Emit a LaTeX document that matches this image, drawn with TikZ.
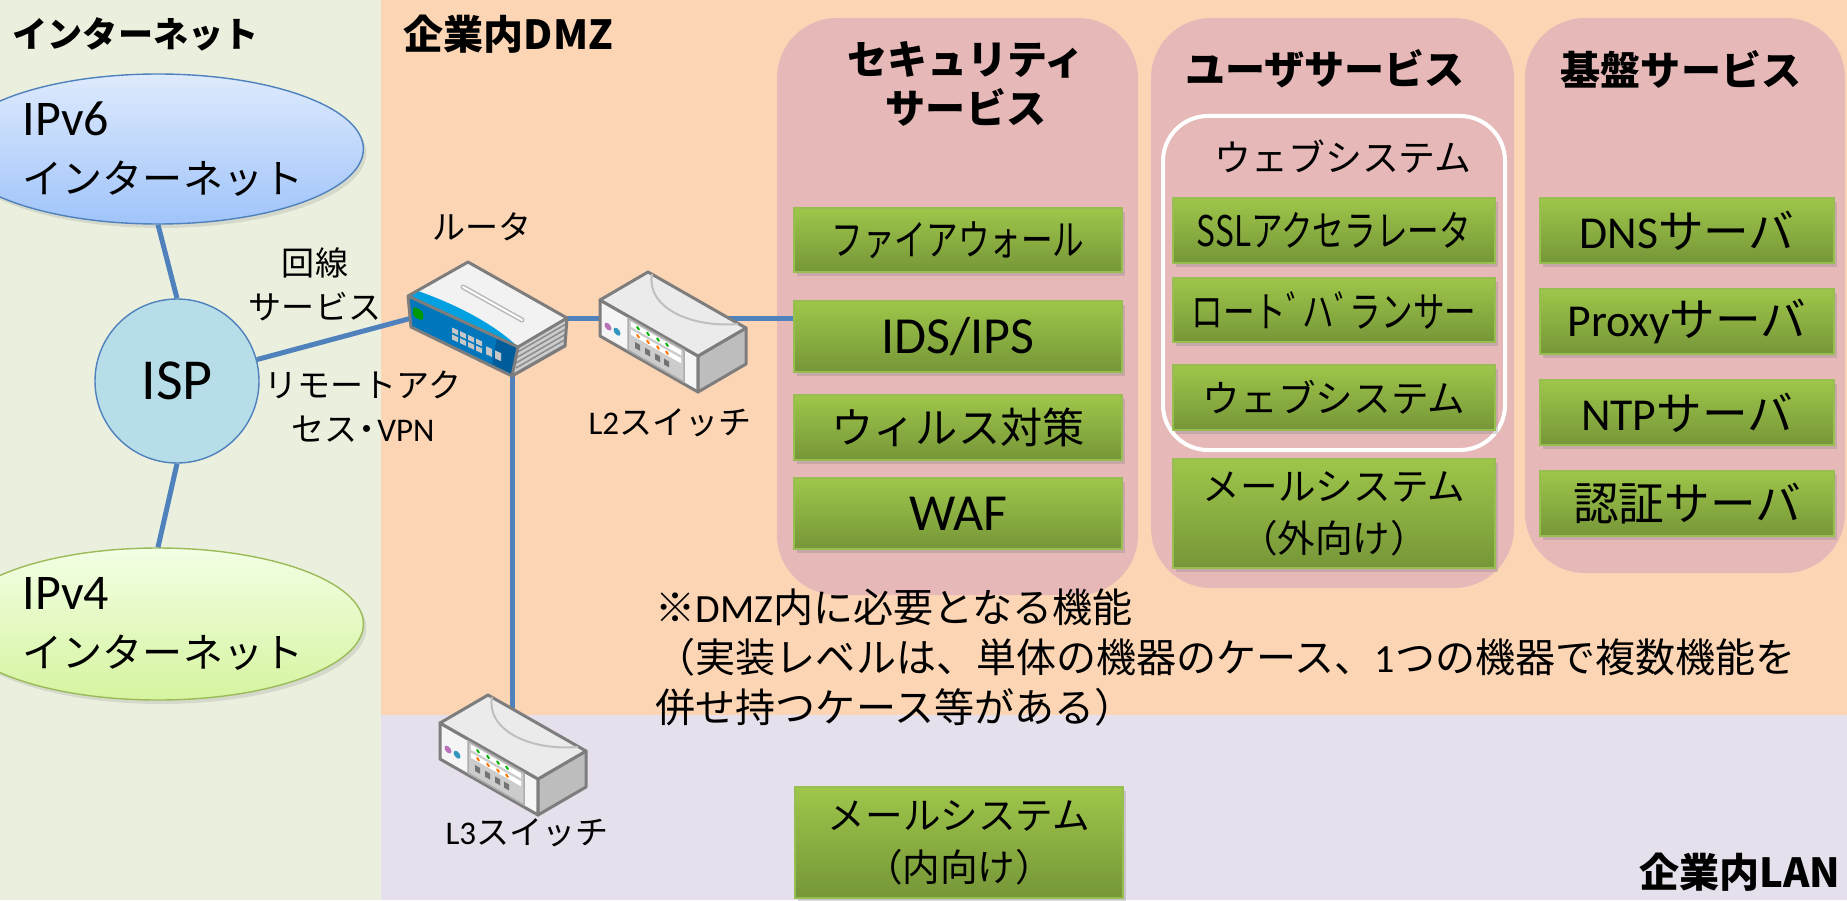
\documentclass[tikz,border=0pt]{standalone}
\usepackage{fontspec}
\setmainfont{Noto Sans CJK JP}
\newfontfamily\engfont{Carlito}
\newfontfamily\narrowfont{Noto Sans CJK JP}[FakeStretch=0.75]
\usetikzlibrary{shapes.geometric,shadows}

\definecolor{netbg}{RGB}{235,240,222}
\definecolor{dmzbg}{RGB}{252,213,181}
\definecolor{lanbg}{RGB}{230,224,236}
\definecolor{svcbg}{RGB}{230,185,184}
\definecolor{linkblue}{RGB}{79,129,189}
\definecolor{boxtop}{RGB}{158,198,74}
\definecolor{boxbot}{RGB}{118,150,56}
\definecolor{boxline}{RGB}{150,190,80}
\definecolor{vsixtop}{RGB}{222,234,253}
\definecolor{vsixbot}{RGB}{160,196,250}
\definecolor{vfourtop}{RGB}{242,255,228}
\definecolor{vfourbot}{RGB}{214,244,160}
\definecolor{vfourline}{RGB}{155,187,89}
\definecolor{ispfill}{RGB}{183,221,232}
\definecolor{devline}{RGB}{125,125,125}
\definecolor{rtblue}{RGB}{0,160,225}
\definecolor{rtface}{RGB}{0,118,188}
\definecolor{rtdark}{RGB}{0,92,155}

\tikzset{
  link/.style={linkblue, line width=0.5mm},
  panel/.style={fill=svcbg, rounded corners=6mm},
  fbox/.style={draw=boxline, top color=boxtop, bottom color=boxbot, line width=0.2mm,
    align=center, inner sep=0pt,
    drop shadow={shadow xshift=0.3mm, shadow yshift=-0.4mm, opacity=0.3}},
  sectitle/.style={font=\fontsize{11.4pt}{13.7pt}\selectfont\bfseries, align=center},
  lbl/.style={font=\fontsize{9.4pt}{12.5pt}\selectfont, align=center, inner sep=0pt},
  devface/.style={draw=devline, line width=0.3mm, line join=round},
  switch/.pic={
    \path[devface, fill=white!96!black] (0,0) -- (98,56) -- (98,92) -- (0,36) -- cycle;
    \path[devface, fill=white!74!black] (98,56) -- (146,28) -- (146,64) -- (98,92) -- cycle;
    \path[devface, fill=white!92!black] (0,0) -- (48,-28) -- (146,28) -- (98,56) -- cycle;
    \draw[white!75!black, line width=0.2mm] (52,-26) .. controls (46,6) and (88,28) .. (138,24);
    % lamps and ports on the front
    \begin{scope}[yslant=-0.571]
      \path[fill=white!80!black, draw=white!68!black, line width=0.15mm] (28,2) rectangle (84,34);
      \fill[white] (31,4) rectangle (81,9);
      \fill[white] (31,12) rectangle (81,17);
      \foreach \u in {38,48,58,67} {
        \fill[green!70!black] (\u,6.5) circle[radius=1.8];
        \fill[orange!90!red] (\u,14.5) circle[radius=1.8];
        \fill[white!45!black] (\u-3,22) rectangle ++(5,6);
      }
      \fill[violet!55] (8,22) circle[radius=3.5];
      \fill[cyan!75!black] (17,22) circle[radius=3.5];
    \end{scope}
  }
}

\begin{document}
\begin{tikzpicture}[x=0.1mm, y=-0.1mm]
  \useasboundingbox (0,0) rectangle (1847,900);

  % areas
  \fill[netbg] (0,0) rectangle (381,900);
  \fill[dmzbg] (381,0) rectangle (1847,715);
  \fill[lanbg] (381,715) rectangle (1847,900);

  \node[anchor=west, inner sep=0pt, font=\fontsize{10pt}{12pt}\selectfont\bfseries] (nettitle) at (12,34) {インターネット};
  \node[anchor=west, inner sep=0pt, font=\fontsize{11.4pt}{13pt}\selectfont\bfseries] (dmztitle) at (403,34) {企業内DMZ};
  \node[anchor=east, inner sep=0pt, font=\fontsize{11.4pt}{13pt}\selectfont\bfseries] (lantitle) at (1841,872) {企業内LAN};

  % service groups
  \fill[panel] (777,18) rectangle (1138,595);
  \fill[panel] (1151,18) rectangle (1514,588);
  \fill[panel] (1525,18) rectangle (1845,573);
  \draw[white, line width=0.4mm, rounded corners=4.5mm] (1163,116) rectangle (1505,450);

  \node[sectitle] (sectitle) at (966,84) {セキュリティ\\サービス};
  \node[sectitle] (usrtitle) at (1325,69) {ユーザサービス};
  \node[sectitle] (basetitle) at (1681,69) {基盤サービス};
  \node[font=\fontsize{10.5pt}{12pt}\selectfont] (webtitle) at (1343,157) {ウェブシステム};

  % security services
  \node[fbox, minimum width=32.8mm, minimum height=6.4mm, font=\narrowfont\fontsize{12pt}{14pt}\selectfont] (fw) at (958,240) {ファイアウォール};
  \node[fbox, minimum width=32.8mm, minimum height=7.1mm, font=\engfont\fontsize{14.8pt}{16pt}\selectfont] (ids) at (958,336.5) {IDS/IPS};
  \node[fbox, minimum width=32.8mm, minimum height=6.5mm, font=\fontsize{12pt}{14pt}\selectfont] (virus) at (958,427.5) {ウィルス対策};
  \node[fbox, minimum width=32.8mm, minimum height=7.1mm, font=\engfont\fontsize{14.8pt}{16pt}\selectfont] (waf) at (958,513.5) {WAF};

  % user services
  \node[fbox, minimum width=32.2mm, minimum height=6.5mm, font=\narrowfont\fontsize{12pt}{14pt}\selectfont] (ssl) at (1334,230.5) {SSLアクセラレータ};
  \node[fbox, minimum width=32.2mm, minimum height=6.4mm, font=\narrowfont\fontsize{12pt}{14pt}\selectfont] (lb) at (1334,310) {ロートﾞハﾞランサー};
  \node[fbox, minimum width=32.2mm, minimum height=6.5mm, font=\fontsize{10.7pt}{14pt}\selectfont] (web) at (1334,397.5) {ウェブシステム};
  \node[fbox, minimum width=32.2mm, minimum height=10.9mm, font=\fontsize{10.7pt}{14.8pt}\selectfont] (extmail) at (1334,513.5) {メールシステム\\（外向け）};

  % base services
  \node[fbox, minimum width=29.4mm, minimum height=6.5mm, font=\fontsize{13pt}{15pt}\selectfont] (dns) at (1687,230.5) {{\engfont DNS}サーバ};
  \node[fbox, minimum width=29.4mm, minimum height=6.5mm, font=\fontsize{13pt}{15pt}\selectfont] (proxy) at (1687,321.5) {{\engfont Proxy}サーバ};
  \node[fbox, minimum width=29.4mm, minimum height=6.5mm, font=\fontsize{13pt}{15pt}\selectfont] (ntp) at (1687,412.5) {{\engfont NTP}サーバ};
  \node[fbox, minimum width=29.4mm, minimum height=6.5mm, font=\fontsize{13pt}{15pt}\selectfont] (auth) at (1687,503.5) {認証サーバ};

  % inside the LAN
  \node[fbox, minimum width=32.8mm, minimum height=11.1mm, font=\fontsize{10.7pt}{14.8pt}\selectfont] (intmail) at (959,842.5) {メールシステム\\（内向け）};

  \node[anchor=north west, align=left, inner sep=0pt, font=\fontsize{11.4pt}{14.2pt}\selectfont] (note) at (655,588)
    {※{\engfont DMZ}内に必要となる機能\\（実装レベルは、単体の機器のケース、{\engfont 1}つの機器で複数機能を\\併せ持つケース等がある）};

  % internet side
  \node[ellipse, draw=linkblue, top color=vsixtop, bottom color=vsixbot, minimum width=31.6mm, minimum height=15mm,
    inner sep=0pt, align=left, font=\fontsize{11.4pt}{16.5pt}\selectfont,
    drop shadow={shadow xshift=0.3mm, shadow yshift=-0.4mm, opacity=0.2}] (ipv6) at (158,149)
    {\hspace*{1mm}{\engfont\fontsize{14.2pt}{16pt}\selectfont IPv6}\\\hspace*{1mm}インターネット};
  \node[ellipse, draw=vfourline, top color=vfourtop, bottom color=vfourbot, minimum width=31.6mm, minimum height=15.2mm,
    inner sep=0pt, align=left, font=\fontsize{11.4pt}{16.5pt}\selectfont,
    drop shadow={shadow xshift=0.3mm, shadow yshift=-0.4mm, opacity=0.2}] (ipv4) at (158,624)
    {\hspace*{1mm}{\engfont\fontsize{14.2pt}{16pt}\selectfont IPv4}\\\hspace*{1mm}インターネット};
  \node[circle, draw=linkblue, fill=ispfill, minimum size=16.4mm, inner sep=0pt,
    font=\engfont\fontsize{16.5pt}{18pt}\selectfont] (isp) at (177,381) {ISP};

  % links
  \coordinate (rt-w) at (412,318);
  \coordinate (rt-e) at (545,318);
  \coordinate (rt-s) at (512,365);
  \coordinate (l2-w) at (620,318);
  \coordinate (l2-e) at (700,318);
  \coordinate (l3-n) at (512,712);
  \draw[link] (ipv6.south) -- (isp.north);
  \draw[link] (isp.south) -- (ipv4.north);
  \draw[link] (isp) -- (rt-w);
  \draw[link] (rt-e) -- (l2-w);
  \draw[link] (l2-e) -- (l2-e -| ids.west);
  \draw[link] (rt-s) -- (l3-n);

  % router
  \fill[white!80!black] (518,347) -- (567,318) -- (565,346) -- (512,376) -- cycle;
  \foreach \k in {0,...,4}
    \draw[white!55!black, line width=0.15mm] (516,353+5*\k) -- (566,324+5*\k);
  \fill[rtface] (408,296) -- (518,347) -- (512,376) -- (411,327) -- cycle;
  \fill[rtdark] (497,337) -- (518,347) -- (512,376) -- (492,366) -- cycle;
  \fill[white!95!black] (408,296) -- (468,262) -- (567,318) -- (518,347) -- cycle;
  \fill[rtblue] (408,296) -- (418,291) .. controls (452,303) and (492,322) .. (518,347) -- cycle;
  \draw[white!72!black, line width=0.5mm, line cap=round] (463,287) -- (522,320);
  \draw[white, line width=0.2mm, line cap=round] (463,287) -- (522,320);
  \begin{scope}[shift={(408,296)}, yslant=-0.464]
    \fill[green!60!black, rounded corners=0.3mm] (5,8) rectangle (15,18);
    \foreach \c in {0,...,3}
      \foreach \r in {0,1}
        \fill[white!78!black] (44+8*\c,11+7*\r) rectangle ++(6,5);
    \foreach \c in {0,1}
      \fill[white!78!black] (78+9*\c,14) rectangle ++(6,8);
  \end{scope}
  \draw[devface] (408,296) -- (468,262) -- (567,318) -- (565,346) -- (512,376) -- (411,327) -- cycle
    (408,296) -- (518,347) -- (567,318) (518,347) -- (512,376);

  % switches
  \pic at (600,300) {switch};
  \pic at (440,723) {switch};

  % labels
  \node[lbl] (rtname) at (482,227) {ルータ};
  \node[lbl] (ltwoname) at (670,423) {{\engfont L2}スイッチ};
  \node[lbl] (lthreename) at (527,833) {{\engfont L3}スイッチ};
  \node[lbl] (linesvc) at (315,284) {回線\\サービス};
  \node[lbl] (remote) at (363,407) {リモートアク\\セス\kern-0.2em・\kern-0.2em{\engfont VPN}};
\end{tikzpicture}
\end{document}
